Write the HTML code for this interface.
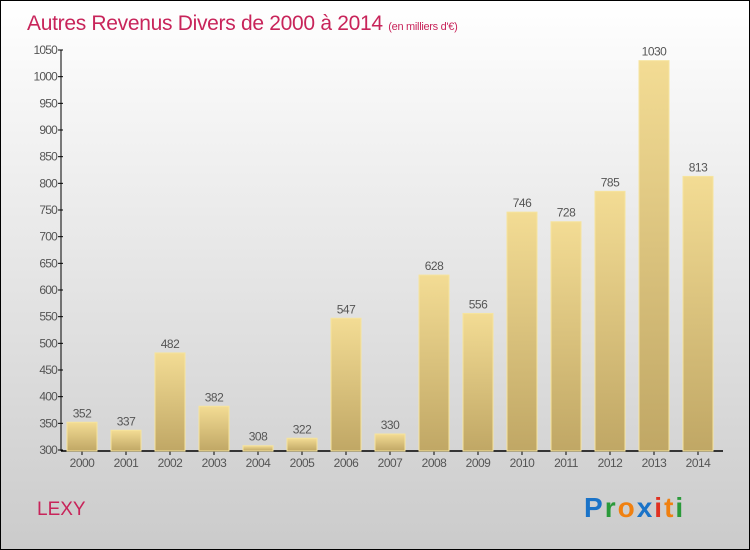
<!DOCTYPE html>
<html><head><meta charset="utf-8"><style>
body{margin:0}
#wrap{width:748px;height:548px;border:1px solid #000;background:linear-gradient(#fff,#cbcbcb);position:relative;font-family:"Liberation Sans",sans-serif;overflow:hidden}
</style></head><body>
<div id="wrap">
<svg width="748" height="548">
<defs><linearGradient id="bg" x1="0" y1="0" x2="0" y2="1"><stop offset="0" stop-color="#f3dc94"/><stop offset="1" stop-color="#c0a765"/></linearGradient></defs>
<text x="26" y="29" font-size="21" fill="#c8245a" letter-spacing="-0.3">Autres Revenus Divers de 2000 à 2014 <tspan font-size="11">(en milliers d'€)</tspan></text>
<g id="axes"></g><g id="bars"></g>
<text x="36" y="514" font-size="19" fill="#c8245a">LEXY</text>
<text x="583" y="516" font-size="28" font-weight="bold" letter-spacing="2"><tspan fill="#1a73c8">P</tspan><tspan fill="#2a9a3a">r</tspan><tspan fill="#f08010">o</tspan><tspan fill="#1a73c8">x</tspan><tspan fill="#e03020">i</tspan><tspan fill="#f08010">t</tspan><tspan fill="#2a9a3a">i</tspan></text>
</svg></div>
<script>
const years=["2000","2001","2002","2003","2004","2005","2006","2007","2008","2009","2010","2011","2012","2013","2014"];
const values=[352,337,482,382,308,322,547,330,628,556,746,728,785,1030,813];
const yTicks=[300,350,400,450,500,550,600,650,700,750,800,850,900,950,1000,1050];
const ns="http://www.w3.org/2000/svg";
const y=v=>449-(v-300)*400/750;
const x=i=>66+44*i;
function mk(t,a,p){const e=document.createElementNS(ns,t);for(const k in a)e.setAttribute(k,a[k]);p.appendChild(e);return e;}
const ax=document.getElementById('axes'),bs=document.getElementById('bars');
let l=mk('line',{x1:60,y1:49,x2:60,y2:450,stroke:'#000'},ax);


l=mk('line',{x1:60,y1:450,x2:722,y2:450,stroke:'#000','stroke-width':1.5},ax);


yTicks.forEach(v=>{
 mk('line',{x1:57,x2:62,y1:y(v),y2:y(v),stroke:'#000'},ax);
 const t=mk('text',{x:56,y:y(v)+4,'text-anchor':'end','font-size':12,fill:'#555','letter-spacing':'-0.8'},ax);
 t.textContent=v;
 
 
});
values.forEach((v,i)=>{
 const r=mk('rect',{x:x(i),y:y(v),width:30,height:450-y(v),fill:'url(#bg)',stroke:'#f6e49e','stroke-width':1},bs);
 
 
 const t=mk('text',{x:x(i)+15,y:y(v)-5,'text-anchor':'middle','font-size':12,fill:'#555','letter-spacing':'-0.5'},bs);
 t.textContent=v;
 
 
 mk('line',{x1:x(i)+15,x2:x(i)+15,y1:450,y2:454,stroke:'#000'},ax);
 const xt=mk('text',{x:x(i)+15,y:466,'text-anchor':'middle','font-size':12,fill:'#555','letter-spacing':'-0.5'},ax);
 xt.textContent=years[i];
 
 
});
</script>
</body></html>
